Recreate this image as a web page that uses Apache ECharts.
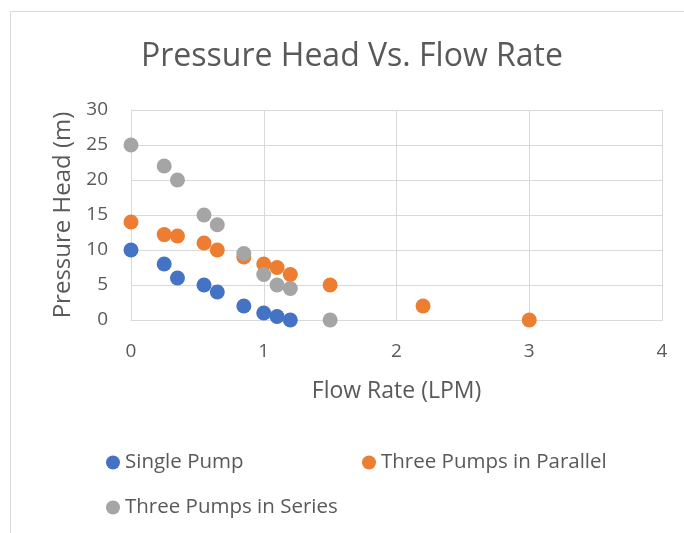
<!DOCTYPE html>
<html>
<head>
<meta charset="utf-8">
<script src="https://cdn.jsdelivr.net/npm/echarts@6/dist/echarts.min.js"></script>
<style>html,body{margin:0;padding:0;background:#fff;}#c{width:684px;height:533px;}</style>
</head>
<body>
<div id="c"></div>
<script>
const seriesNames = ['Single Pump', 'Three Pumps in Parallel', 'Three Pumps in Series'];
const singleX = [0, 0.25, 0.35, 0.55, 0.65, 0.85, 1.0, 1.1, 1.2];
const singleY = [10, 8, 6, 5, 4, 2, 1, 0.5, 0];
const parallelX = [0, 0.25, 0.35, 0.55, 0.65, 0.85, 1.0, 1.1, 1.2, 1.5, 2.2, 3.0];
const parallelY = [14, 12.2, 12, 11, 10, 9, 8, 7.5, 6.5, 5, 2, 0];
const seriesX = [0, 0.25, 0.35, 0.55, 0.65, 0.85, 1.0, 1.1, 1.2, 1.5];
const seriesY = [25, 22, 20, 15, 13.6, 9.5, 6.5, 5, 4.5, 0];
const colors = ['#4472C4', '#ED7D31', '#A5A5A5'];

const FONT = 'Open Sans';
const TXT = '#595959';
const zip = (xs, ys) => xs.map((x, i) => [x, ys[i]]);
const chart = echarts.init(document.getElementById('c'), null, {renderer: 'canvas'});
const legendBase = {
  icon: 'circle', itemWidth: 14, itemHeight: 14, itemGap: 4,
  textStyle: {color: TXT, fontFamily: FONT, fontSize: 20.5, padding: [0, 0, 0, 0]},
  padding: 0, selectedMode: false
};
chart.setOption({
  animation: false,
  backgroundColor: '#fff',
  color: colors,
  title: {
    text: 'Pressure Head Vs. Flow Rate',
    left: 141, top: 41,
    padding: 0,
    textStyle: {color: TXT, fontFamily: FONT, fontWeight: 'normal', fontSize: 32}
  },
  graphic: [
    {type: 'line', shape: {x1: 10.5, y1: 11.5, x2: 10.5, y2: 533}, style: {stroke: '#D9D9D9', lineWidth: 1}},
    {type: 'line', shape: {x1: 10.5, y1: 11.5, x2: 684, y2: 11.5}, style: {stroke: '#D9D9D9', lineWidth: 1}}
  ],
  legend: [
    Object.assign({}, legendBase, {data: [seriesNames[0]], left: 106, top: 452}),
    Object.assign({}, legendBase, {data: [seriesNames[1]], left: 362, top: 452}),
    Object.assign({}, legendBase, {data: [seriesNames[2]], left: 106, top: 497})
  ],
  grid: {left: 131, right: 22, top: 110, bottom: 213, containLabel: false},
  xAxis: {
    type: 'value', min: 0, max: 4, interval: 1,
    name: 'Flow Rate (LPM)', nameLocation: 'middle', nameGap: 60,
    nameTextStyle: {color: TXT, fontFamily: FONT, fontSize: 23},
    axisLine: {show: true, lineStyle: {color: '#D9D9D9', width: 1}},
    axisTick: {show: false},
    axisLabel: {color: TXT, fontFamily: FONT, fontSize: 19, margin: 22},
    splitLine: {show: true, lineStyle: {color: '#D9D9D9', width: 1}}
  },
  yAxis: {
    type: 'value', min: 0, max: 30, interval: 5,
    name: 'Pressure Head (m)', nameLocation: 'middle', nameGap: 56,
    nameTextStyle: {color: TXT, fontFamily: FONT, fontSize: 24, padding: [0, 0, 0, 0]},
    axisLine: {show: true, lineStyle: {color: '#D9D9D9', width: 1}},
    axisTick: {show: false},
    axisLabel: {color: TXT, fontFamily: FONT, fontSize: 19, margin: 23},
    splitLine: {show: true, lineStyle: {color: '#D9D9D9', width: 1}}
  },
  series: [
    {name: seriesNames[0], type: 'scatter', symbol: 'circle', symbolSize: 15, data: zip(singleX, singleY), itemStyle: {color: colors[0], opacity: 1}, z: 2},
    {name: seriesNames[1], type: 'scatter', symbol: 'circle', symbolSize: 15, data: zip(parallelX, parallelY), itemStyle: {color: colors[1], opacity: 1}, z: 3},
    {name: seriesNames[2], type: 'scatter', symbol: 'circle', symbolSize: 15, data: zip(seriesX, seriesY), itemStyle: {color: colors[2], opacity: 1}, z: 4}
  ]
});
</script>
</body>
</html>
